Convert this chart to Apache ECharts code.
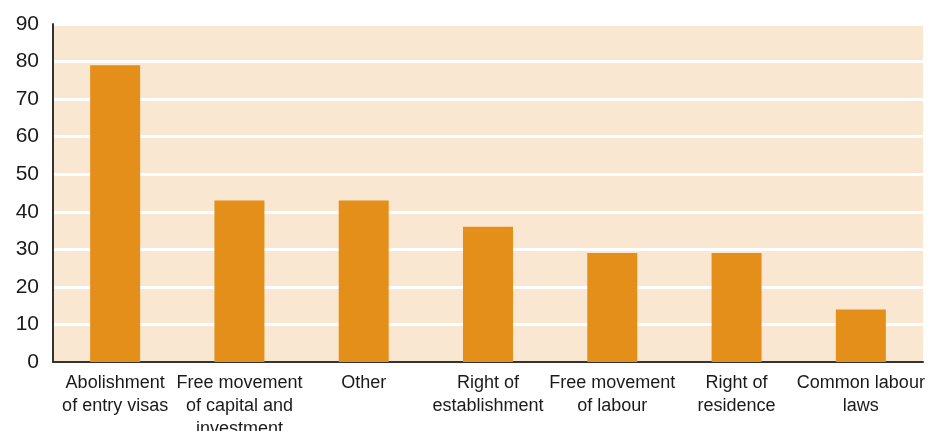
<!DOCTYPE html>
<html>
<head>
<meta charset="utf-8">
<script src="https://cdn.jsdelivr.net/npm/echarts@6/dist/echarts.min.js"></script>
<style>html,body{margin:0;padding:0;background:#fff;overflow:hidden;}#c{width:928px;height:431px;}</style>
</head>
<body>
<div id="c"></div>
<script>
var categories = [
  "Abolishment\nof entry visas",
  "Free movement\nof capital and\ninvestment",
  "Other",
  "Right of\nestablishment",
  "Free movement\nof labour",
  "Right of\nresidence",
  "Common labour\nlaws"
];
var values = [79, 43, 43, 36, 29, 29, 14];
var yTicks = { min: 0, max: 90, interval: 10 };

var chart = echarts.init(document.getElementById('c'), null, { renderer: 'canvas', width: 928, height: 431 });
chart.setOption({
  animation: false,
  backgroundColor: '#ffffff',
  textStyle: { fontFamily: 'Liberation Sans, Arial, sans-serif' },
  grid: {
    left: 53, right: 5, top: 24, bottom: 69,
    show: true, backgroundColor: '#F9E7D2', borderWidth: 0,
    containLabel: false,
    outerBoundsMode: 'none'
  },
  xAxis: {
    type: 'category',
    data: categories,
    axisLine: { show: true, lineStyle: { color: '#333333', width: 2 } },
    axisTick: { show: false },
    axisLabel: {
      interval: 0, color: '#1a1a1a', fontSize: 18, lineHeight: 23,
      margin: 10, fontFamily: 'Liberation Sans, Arial, sans-serif'
    },
    splitLine: { show: false }
  },
  yAxis: {
    type: 'value',
    min: yTicks.min, max: yTicks.max, interval: yTicks.interval,
    axisLine: { show: true, lineStyle: { color: '#333333', width: 2 } },
    axisTick: { show: false },
    axisLabel: {
      color: '#1a1a1a', fontSize: 21, margin: 14,
      fontFamily: 'Liberation Sans, Arial, sans-serif'
    },
    splitLine: { show: true, lineStyle: { color: '#ffffff', width: 3 } }
  },
  series: [{
    type: 'bar',
    data: values,
    barWidth: 50,
    itemStyle: { color: '#E48F1A' }
  }]
});
</script>
</body>
</html>
